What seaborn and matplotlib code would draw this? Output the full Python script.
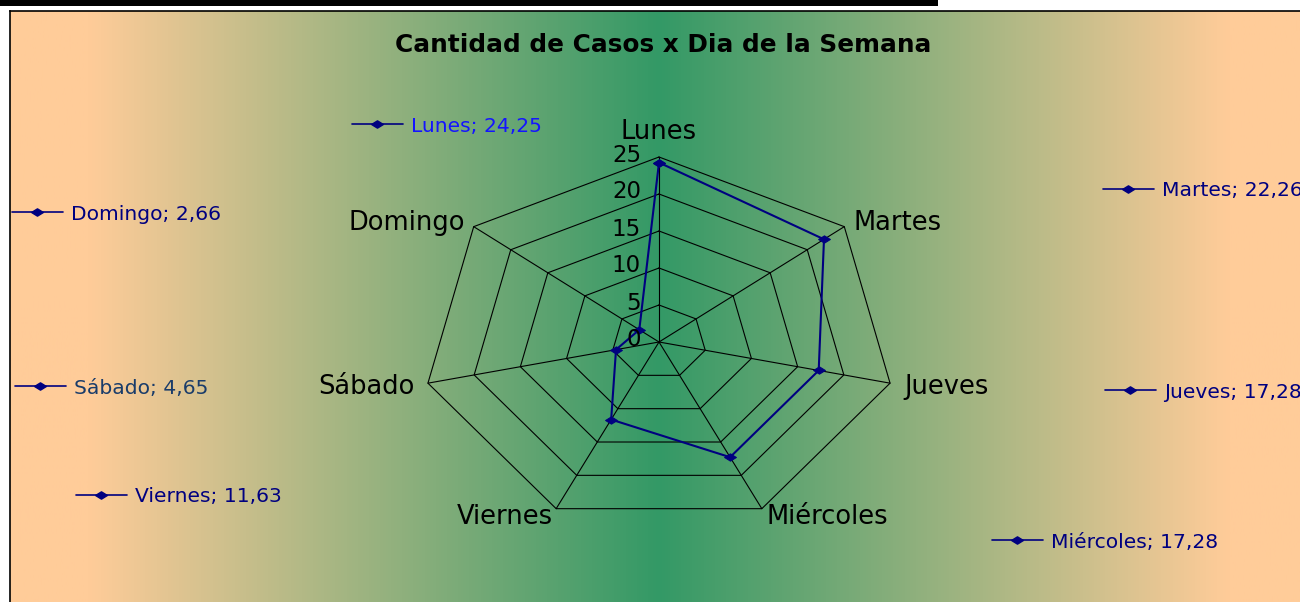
import numpy as np
import pandas as pd
import matplotlib
matplotlib.use("Agg")
import matplotlib.pyplot as plt
import matplotlib.colors as mcolors
from matplotlib.lines import Line2D
from matplotlib.patches import Rectangle
import seaborn as sns

# datos
dias = ["Lunes", "Martes", "Jueves", "Miércoles", "Viernes", "Sábado", "Domingo"]
casos = [24.25, 22.26, 17.28, 17.28, 11.63, 4.65, 2.66]
niveles = [0, 5, 10, 15, 20, 25]
titulo = "Cantidad de Casos x Dia de la Semana"

# posiciones de las etiquetas de datos (px, desde arriba-izquierda) y colores
pos_etiquetas = {"Lunes": (352, 126), "Martes": (1103, 191), "Jueves": (1105, 392),
                 "Miércoles": (992, 542), "Viernes": (76, 497), "Sábado": (15, 388),
                 "Domingo": (12, 214)}
color_etiquetas = {"Lunes": "#1414FF", "Sábado": "#1A3C6A"}
# offsets (px) de los nombres de categoria respecto al vertice exterior
off_cat = [(0, 25, "center"), (9, 4, "left"), (14, -4, "left"), (5, -8, "left"),
           (-3, -8, "right"), (-13, -4, "right"), (-9, 4, "right")]

sns.set_theme(style="white")
plt.rcParams["font.family"] = ["DejaVu Sans"]

W, H = 1300, 602
fig = plt.figure(figsize=(W / 100, H / 100), dpi=100)
fig.patch.set_facecolor("white")

# fondo degradado (verde en el centro, durazno a los lados)
bg = fig.add_axes([10 / W, 0, 1 - 10 / W, 1 - 11 / H])
peach = np.array(mcolors.to_rgb("#FFCC99"))
green = np.array(mcolors.to_rgb("#339966"))
xpix = np.linspace(10, W, 800)
t = np.clip(np.abs(xpix - 659) / 570, 0, 1)
grad = green[None, :] * (1 - t[:, None]) + peach[None, :] * t[:, None]
bg.imshow(grad[None, :, :], aspect="auto", extent=[0, 1, 0, 1])
bg.set_xticks([])
bg.set_yticks([])
for s in ["right", "bottom"]:
    bg.spines[s].set_visible(False)
for s in ["left", "top"]:
    bg.spines[s].set_color("black")
    bg.spines[s].set_linewidth(1.2)

# barra negra superior
fig.add_artist(Rectangle((0, 1 - 6 / H), 938 / W, 6 / H, transform=fig.transFigure,
                         facecolor="black", edgecolor="none"))

# ejes del radar: 25 unidades = 237 px horiz, 185 px vert, centro (659, 342)
cx, cy = 659, 342
wpx, hpx = 60 * 237 / 25, 60 * 185 / 25
ax = fig.add_axes([(cx - wpx / 2) / W, (H - cy - hpx / 2) / H, wpx / W, hpx / H])
ax.patch.set_alpha(0)

n = len(dias)
ang = np.arange(n) * 2 * np.pi / n
ux, uy = np.sin(ang), np.cos(ang)

# rejilla poligonal
for lv in niveles[1:]:
    ax.plot(np.append(ux, ux[0]) * lv, np.append(uy, uy[0]) * lv, color="black", lw=0.8)
for i in range(n):
    ax.plot([0, ux[i] * niveles[-1]], [0, uy[i] * niveles[-1]], color="black", lw=0.8)

# serie
diamante = [(-1, 0), (0, 0.62), (1, 0), (0, -0.62), (-1, 0)]
v = np.array(casos)
df = pd.DataFrame({"x": np.append(ux * v, ux[0] * v[0]),
                   "y": np.append(uy * v, uy[0] * v[0])})
sns.lineplot(data=df, x="x", y="y", sort=False, estimator=None, ax=ax, color="#000080",
             lw=1.5, marker=diamante, markersize=8.5, markeredgecolor="#000080",
             markerfacecolor="#000080")
ax.set_xlim(-30, 30)
ax.set_ylim(-30, 30)
ax.axis("off")

# etiquetas del eje radial
for lv in niveles:
    ax.annotate(str(lv), (0, lv), xytext=(-18, 2), textcoords="offset pixels",
                ha="right", va="center", fontsize=16.5, color="black")

# nombres de categoria
for i, d in enumerate(dias):
    dx, dy, ha = off_cat[i]
    ax.annotate(d, (ux[i] * 25, uy[i] * 25), xytext=(dx, dy), textcoords="offset pixels",
                ha=ha, va="center", fontsize=18.5, color="black")

# etiquetas de datos con su clave
for d, val in zip(dias, casos):
    px, py = pos_etiquetas[d]
    h = Line2D([], [], color="#000080", lw=1.2, marker=diamante, markersize=8.5,
               markerfacecolor="#000080", markeredgecolor="#000080")
    lab = "%s; %s" % (d, ("%.2f" % val).replace(".", ","))
    fig.legend([h], [lab], loc="center left", bbox_to_anchor=(px / W, 1 - py / H),
               frameon=False, borderpad=0, borderaxespad=0, handlelength=2.5,
               handletextpad=0.4, fontsize=14.6, numpoints=1,
               labelcolor=color_etiquetas.get(d, "#000080"))

fig.text(663 / W, 1 - 45 / H, titulo, ha="center", va="center", fontsize=17.8,
         fontweight="bold", color="black")

fig.savefig("out.png", dpi=100)
